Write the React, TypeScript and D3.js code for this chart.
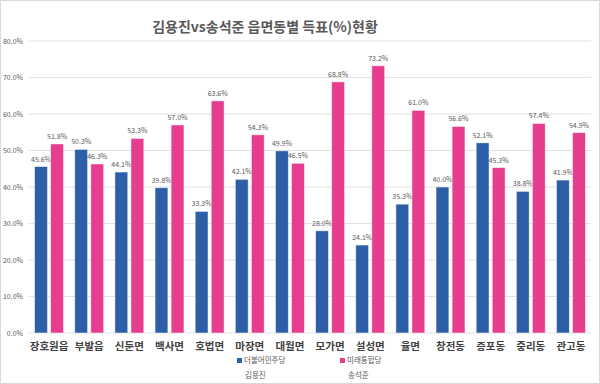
import React from 'react'
import * as d3 from 'd3'

const width = 600
const height = 384

const areas = ['장호원읍', '부발읍', '신둔면', '백사면', '호법면', '마장면', '대월면', '모가면', '설성면', '율면', '창전동', '증포동', '중리동', '관고동']
const kimValues = [45.6, 50.3, 44.1, 39.8, 33.3, 42.1, 49.9, 28.0, 24.1, 35.3, 40.0, 52.1, 38.8, 41.9]
const songValues = [51.8, 46.3, 53.3, 57.0, 63.6, 54.3, 46.5, 68.8, 73.2, 61.0, 56.6, 45.3, 57.4, 54.9]
const yTicks = [0, 10, 20, 30, 40, 50, 60, 70, 80]
const seriesNames = ['더불어민주당', '미래통합당']
const candidates = ['김용진', '송석준']
const colors = ['#2c5fa8', '#e63d8f']

const plot = { left: 29, right: 591, top: 41, bottom: 333 }

const App = () => {
  const x = d3.scaleBand().domain(areas).range([plot.left, plot.right]).paddingInner(0.28).paddingOuter(0.14)
  const inner = d3.scaleBand().domain(['0', '1']).range([0, x.bandwidth()]).paddingInner(0.2)
  const y = d3.scaleLinear().domain([0, 80]).range([plot.bottom, plot.top])
  const series = [kimValues, songValues]

  return (
    <svg width={width} height={height} style={{ position: 'absolute', left: 0, top: 0, background: '#fff' }}
      fontFamily="'Noto Sans CJK KR', 'Noto Sans', sans-serif">
      <rect x={0.5} y={0.5} width={width - 1} height={height - 1} fill="#fff" stroke="#d9d9d9" />
      <text x={265} y={32} textAnchor="middle" fontSize={14} fontWeight="bold" fill="#595959">
        김용진vs송석준 읍면동별 득표(%)현황
      </text>
      {yTicks.map(t => (
        <g key={t}>
          <line x1={plot.left} x2={plot.right} y1={y(t)} y2={y(t)} stroke="#d9d9d9" strokeWidth={0.8} />
          <text x={23} y={y(t) + 2.5} textAnchor="end" fontSize={7} fill="#595959">{t.toFixed(1)}%</text>
        </g>
      ))}
      {areas.map((a, i) => (
        <g key={a} transform={`translate(${x(a)},0)`}>
          {series.map((vals, s) => {
            const bx = inner(String(s))!
            const bw = inner.bandwidth()
            return (
              <g key={s}>
                <rect x={bx} y={y(vals[i])} width={bw} height={y(0) - y(vals[i])} fill={colors[s]}
                  stroke="#ffffff" strokeOpacity={0.6} strokeWidth={0.8} />
                <text x={bx + bw / 2} y={y(vals[i]) - 5} textAnchor="middle" fontSize={7} fill="#595959">
                  {vals[i].toFixed(1)}%
                </text>
              </g>
            )
          })}
          <text x={x.bandwidth() / 2} y={350} textAnchor="middle" fontSize={10.5} fontWeight="bold" fill="#404040">{a}</text>
        </g>
      ))}
      {seriesNames.map((n, s) => (
        <g key={n} transform={`translate(${237 + s * 103},0)`}>
          <rect x={0} y={358} width={5} height={5} fill={colors[s]} />
          <text x={7} y={363} fontSize={7.5} fill="#595959">{n}</text>
          <text x={8} y={378} fontSize={7.5} fill="#595959">{candidates[s]}</text>
        </g>
      ))}
    </svg>
  )
}

export default App
